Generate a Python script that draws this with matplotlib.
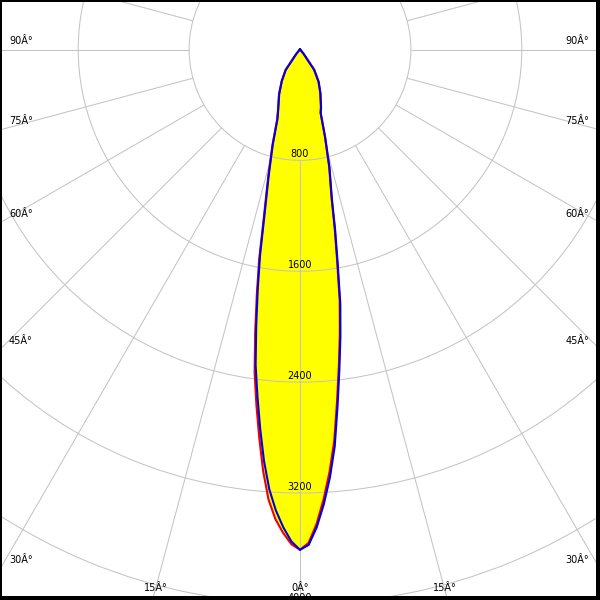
import numpy as np
import matplotlib
matplotlib.use("Agg")
import matplotlib.pyplot as plt
from matplotlib.lines import Line2D

# ---------------- data (cd) ----------------
gamma = [0, 1, 2, 3, 4, 5, 6, 7, 8, 9, 10, 11, 12, 14, 16, 18, 20, 25, 30, 35, 40, 50, 60, 70, 80, 90]
c0_right = [3610, 3560, 3425, 3250, 3055, 2835, 2555, 2300, 2065, 1830, 1540, 1310, 1095, 868, 650, 478, 440, 345, 265, 175, 38, 5, 0, 0, 0, 0]
c0_left = [3610, 3570, 3490, 3393, 3255, 3053, 2815, 2582, 2354, 2067, 1794, 1545, 1272, 950, 726, 535, 465, 360, 265, 183, 45, 5, 0, 0, 0, 0]
c90_right = [3610, 3575, 3450, 3285, 3095, 2875, 2590, 2330, 2095, 1860, 1565, 1330, 1110, 880, 660, 485, 445, 350, 270, 180, 40, 5, 0, 0, 0, 0]
c90_left = [3610, 3550, 3450, 3330, 3180, 2980, 2750, 2520, 2300, 2020, 1755, 1510, 1245, 930, 712, 525, 458, 355, 262, 180, 42, 5, 0, 0, 0, 0]

radial_ticks = [800, 1600, 2400, 3200, 4000]
radial_labels = ["800", "1600", "2400", "3200", "4000"]
angle_ticks = [90, 75, 60, 45, 30]
bottom_angle_ticks = [15, 0]
spoke_step = 15

# ---------------- geometry ----------------
W, H = 600, 600
cx, cy = 300.0, 49.5          # polar centre in pixels (from top-left)
scale = 0.1386                # pixels per cd
R_px = 720.0
rmax = R_px / scale

grid_col = "#c4c4c4"

fig = plt.figure(figsize=(6, 6), dpi=100, facecolor="white")
ax = fig.add_axes([(cx - R_px) / W, (H - cy - R_px) / H, 2 * R_px / W, 2 * R_px / H],
                  projection="polar")
ax.set_theta_zero_location("S")
ax.set_theta_direction(1)
ax.set_ylim(0, rmax)
ax.set_rgrids(radial_ticks, labels=[""] * len(radial_ticks))
ax.set_xticks([])
ax.set_axisbelow(False)
ax.grid(True, axis="y", color=grid_col, lw=0.75)
ax.spines["polar"].set_visible(False)
ax.tick_params(labelleft=False, labelbottom=False, length=0)


def full_curve(left, right):
    th = np.concatenate([-np.array(gamma[::-1], float), np.array(gamma[1:], float)])
    r = np.concatenate([np.array(left[::-1], float), np.array(right[1:], float)])
    return np.deg2rad(th), r


th0, r0 = full_curve(c0_left, c0_right)
th90, r90 = full_curve(c90_left, c90_right)

ax.fill(th0, r0, color="#ffff00", lw=0, zorder=1)
ax.fill(th90, r90, color="#ffff00", lw=0, zorder=1)

# spokes, starting at the first circle
spokes = np.deg2rad(np.arange(-180, 180, spoke_step))
ax.vlines(spokes, radial_ticks[0], rmax, colors=grid_col, lw=0.75, zorder=2.5)

ax.plot(th0, r0, color="#ee0000", lw=1.5, zorder=4, solid_joinstyle="round")
ax.plot(th90, r90, color="#0000e6", lw=1.5, zorder=5, solid_joinstyle="round")

# radial labels
for r, lab in zip(radial_ticks, radial_labels):
    ypx = cy + r * scale - 6
    fig.text(cx / W, 1 - ypx / H, lab, ha="center", va="center", fontsize=7,
             family="DejaVu Sans", color="black")

# angle labels on the sides
for a in angle_ticks:
    y_hit = cy + cx / np.tan(np.deg2rad(a))
    ypx = y_hit - 9
    s = "%d\u00c2\u00b0" % a
    fig.text(9 / W, 1 - ypx / H, s, ha="left", va="center", fontsize=7, family="DejaVu Sans")
    fig.text(589 / W, 1 - ypx / H, s, ha="right", va="center", fontsize=7, family="DejaVu Sans")

# angle labels at the bottom
for a in bottom_angle_ticks:
    s = "%d\u00c2\u00b0" % a
    dx = (H - cy) * np.tan(np.deg2rad(a))
    for sign in ([-1, 1] if a else [0]):
        xpx = cx + sign * (dx - 3)
        fig.text(xpx / W, 1 - 588 / H, s, ha="center", va="center", fontsize=7,
                 family="DejaVu Sans")

# frame
fig.add_artist(Line2D([1 / W, 1 / W], [0, 1], color="black", lw=1.44, transform=fig.transFigure))
fig.add_artist(Line2D([0, 1], [1 - 1 / H, 1 - 1 / H], color="black", lw=1.44, transform=fig.transFigure))
fig.add_artist(Line2D([598 / W, 598 / W], [0, 1], color="black", lw=2.88, transform=fig.transFigure))
fig.add_artist(Line2D([0, 1], [2 / H, 2 / H], color="black", lw=2.88, transform=fig.transFigure))

fig.savefig("out.png", dpi=100, facecolor="white")
